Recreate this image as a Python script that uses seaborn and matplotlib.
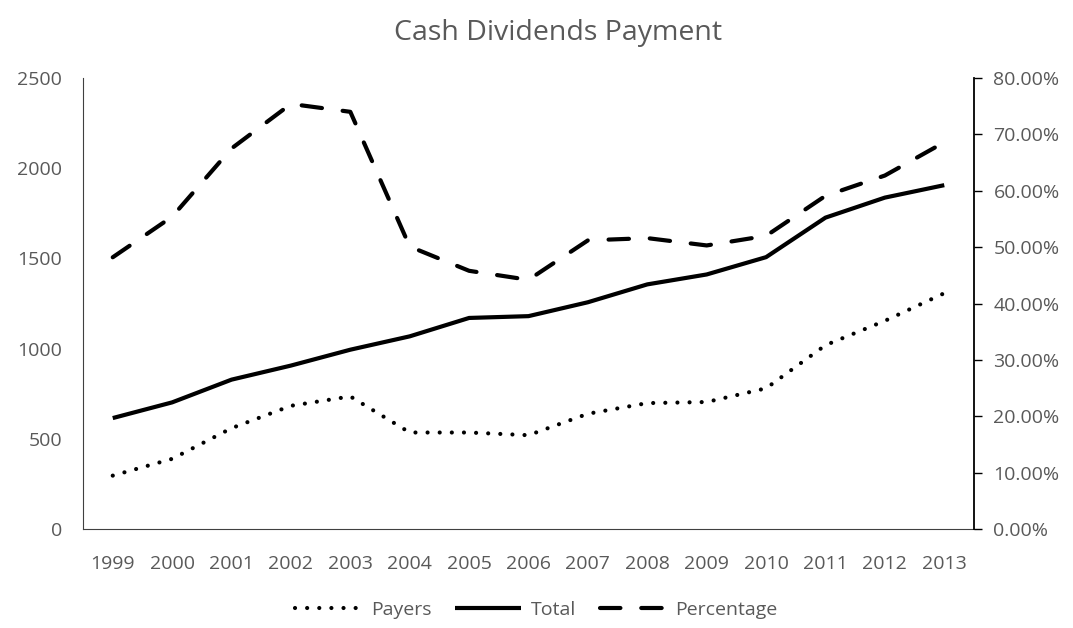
import pandas as pd
import matplotlib.pyplot as plt
import seaborn as sns
from matplotlib.ticker import PercentFormatter

# values
years = ['1999', '2000', '2001', '2002', '2003', '2004', '2005', '2006',
         '2007', '2008', '2009', '2010', '2011', '2012', '2013']
payers = [296, 389, 559, 683, 735, 535, 535, 520, 639, 698, 704, 780, 1019, 1154, 1307]
total = [615, 702, 828, 906, 994, 1068, 1170, 1180, 1257, 1356, 1411, 1507, 1726, 1837, 1906]
percentage = [0.482, 0.554, 0.675, 0.754, 0.740, 0.501, 0.458, 0.442,
              0.512, 0.516, 0.503, 0.520, 0.591, 0.627, 0.686]

df = pd.DataFrame({'Year': years, 'Payers': payers, 'Total': total, 'Percentage': percentage})

sns.set_style('white')
plt.rcParams['font.family'] = ['Open Sans', 'DejaVu Sans']
grey = '#595959'

fig = plt.figure(figsize=(10.73, 6.28), dpi=100)
ax = fig.add_axes([0.0774, 0.1576, 0.8303, 0.7182])
ax2 = ax.twinx()

lw = 3
sns.lineplot(data=df, x='Year', y='Payers', ax=ax, color='black', lw=lw,
             label='Payers', legend=False)
sns.lineplot(data=df, x='Year', y='Total', ax=ax, color='black', lw=lw,
             label='Total', legend=False)
sns.lineplot(data=df, x='Year', y='Percentage', ax=ax2, color='black', lw=lw,
             label='Percentage', legend=False)

# line styles (pattern in units of line width)
pay_line = ax.lines[0]
pay_line.set_dashes((0.01, 2.9))
pay_line.set_dash_capstyle('round')
tot_line = ax.lines[1]
tot_line.set_solid_capstyle('butt')
pct_line = ax2.lines[0]
pct_line.set_dashes((4.9, 5.0))
pct_line.set_dash_capstyle('round')

ax.set_xlim(-0.5, len(years) - 0.5)
ax.set_ylim(0, 2500)
ax.set_yticks(range(0, 2501, 500))
ax2.set_ylim(0, 0.8)
ax2.set_yticks([i / 10 for i in range(9)])
ax2.yaxis.set_major_formatter(PercentFormatter(1.0, decimals=2))

ax.set_xlabel('')
ax.set_ylabel('')
ax2.set_ylabel('')

for a in (ax, ax2):
    for s in a.spines.values():
        s.set_visible(False)
ax.spines['left'].set_visible(True)
ax.spines['left'].set_color('#404040')
ax.spines['bottom'].set_visible(True)
ax.spines['bottom'].set_color('#404040')
ax2.spines['right'].set_visible(True)
ax2.spines['right'].set_color('black')
ax2.spines['right'].set_linewidth(1.3)

ax.tick_params(axis='x', length=0, labelsize=14, labelcolor=grey, pad=19)
ax.tick_params(axis='y', length=0, labelsize=14, labelcolor=grey, pad=15)
ax2.tick_params(axis='y', right=True, length=6, width=1, color='black',
                labelsize=14, labelcolor=grey, pad=8)

fig.suptitle('Cash Dividends Payment', x=0.52, y=0.97, fontsize=20.5, color=grey)

handles = [pay_line, tot_line, pct_line]
fig.legend(handles, ['Payers', 'Total', 'Percentage'], loc='center',
           bbox_to_anchor=(0.5, 0.029), ncol=3, frameon=False, fontsize=14,
           labelcolor=grey, handlelength=3.4, columnspacing=1.2, handletextpad=0.5)

fig.savefig('out.png', dpi=100)
